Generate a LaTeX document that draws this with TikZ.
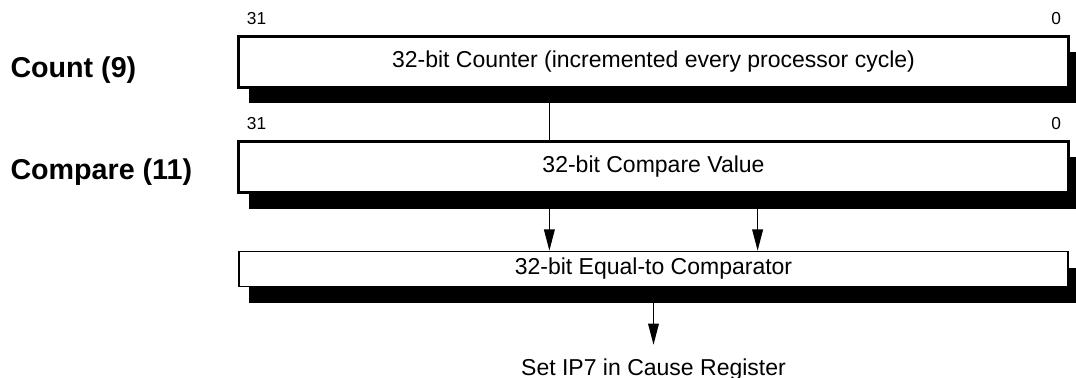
\documentclass[tikz,border=0pt]{standalone}
\usepackage{fontspec}
\setmainfont{Liberation Sans}
\usetikzlibrary{arrows.meta,positioning,shadows,calc}

\tikzset{every picture/.style={line width=0.75pt}}
\tikzset{
  regtext/.style={font=\fontsize{17.25}{20}\selectfont},
  regbox/.style={draw, fill=white, line width=2.25pt, inner sep=0pt,
    minimum width=622.5pt, minimum height=38.25pt, regtext,
    general shadow={fill=black, shadow xshift=7.5pt, shadow yshift=-12pt}},
  cmpbox/.style={regbox, line width=1.1pt, minimum width=622pt, minimum height=26.25pt},
  regname/.style={anchor=west, inner sep=0pt, font=\bfseries\fontsize{21.5}{24}\selectfont},
  bitno/.style={inner sep=0pt, font=\fontsize{13}{15}\selectfont},
  flow/.style={line width=1.1pt, -{Triangle[length=16pt, width=8pt]}}
}

\begin{document}
\begin{tikzpicture}[x=0.75pt,y=0.75pt,yscale=-1]
\useasboundingbox (0,0) rectangle (1076,378);

%Shape: Rectangle [count register]
\node [regbox] (count) at (653.5,62) {32-bit Counter (incremented every processor cycle)};
%Shape: Rectangle [compare register]
\node [regbox] (compare) at (653.5,167) {32-bit Compare Value};
%Shape: Rectangle [comparator]
\node [cmpbox] (eq) at (653.5,269) {32-bit Equal-to Comparator};

% Text Node
\node [regname] (countname) at (10,70) {Count (9)};
% Text Node
\node [regname] (comparename) at (10,172) {Compare (11)};
% Text Node
\node [bitno, above right=7.5pt and 7.1pt of count.north west] (count31) {31};
% Text Node
\node [bitno, above left=7.5pt and 6.4pt of count.north east] (count0) {0};
% Text Node
\node [bitno, above right=7.5pt and 7.1pt of compare.north west] (compare31) {31};
% Text Node
\node [bitno, above left=7.5pt and 6.4pt of compare.north east] (compare0) {0};
% Text Node
\node [regtext, inner sep=0pt, anchor=base] (setip) at (653.5,375) {Set IP7 in Cause Register};

%Straight Lines [count to compare]
\coordinate (tap) at ($(count.south west)!0.375!(count.south east)$);
\draw [line width=1.1pt] (tap) -- (tap |- compare.north);
%Straight Lines [compare to comparator]
\coordinate (inA) at ($(compare.south west)!0.375!(compare.south east)$);
\coordinate (inB) at ($(compare.south west)!0.625!(compare.south east)$);
\draw [flow] (inA) -- (inA |- eq.north);
\draw [flow] (inB) -- (inB |- eq.north);
%Straight Lines [comparator out]
\draw [flow, shorten >=9.75pt] (eq.south) -- (setip.north);
\end{tikzpicture}
\end{document}
